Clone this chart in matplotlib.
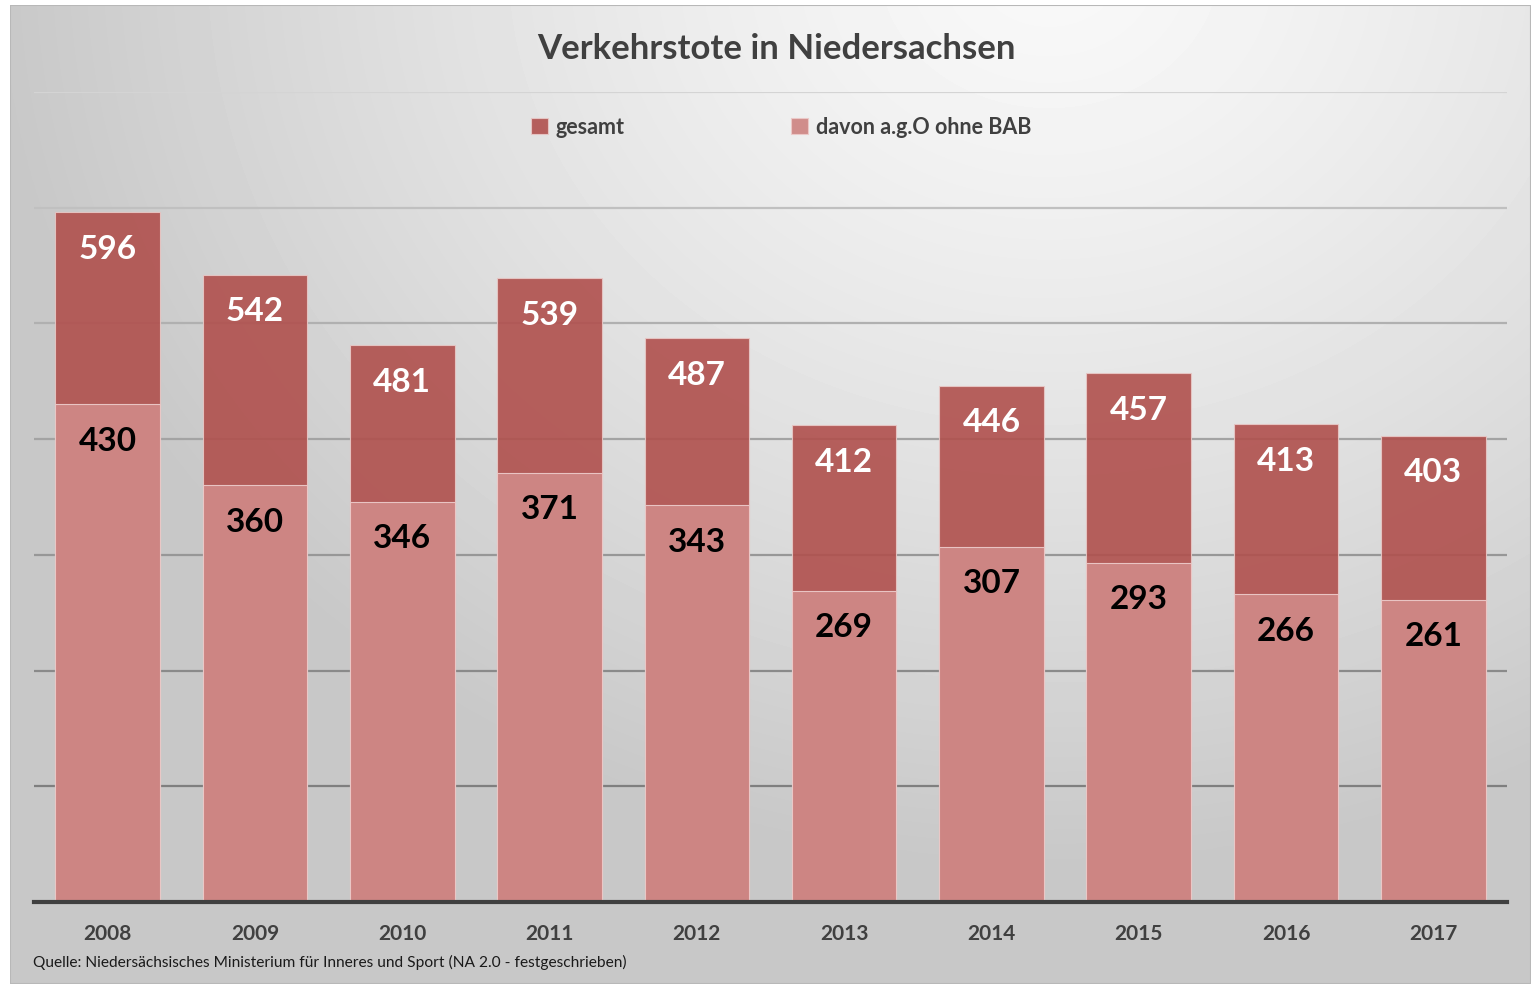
import matplotlib.pyplot as plt
import numpy as np
from matplotlib.patches import Rectangle

years = ["2008", "2009", "2010", "2011", "2012", "2013", "2014", "2015", "2016", "2017"]
gesamt = [596, 542, 481, 539, 487, 412, 446, 457, 413, 403]
davon = [430, 360, 346, 371, 343, 269, 307, 293, 266, 261]

W, H = 1537, 984
fig = plt.figure(figsize=(W / 100, H / 100), dpi=100)
fig.patch.set_facecolor("white")

# background: soft radial gradient, lightest near the top centre-right
bg = fig.add_axes([10 / W, 0, 1521 / W, 979 / H], zorder=-10)
gx, gy = np.meshgrid(np.linspace(10, 1531, 400), np.linspace(5, 984, 260))
r = np.sqrt(((gx - 1050) / 1050) ** 2 + ((gy + 40) / 900) ** 2)
shade = 0.975 - 0.19 * np.clip(r, 0, 1) ** 1.3
bg.imshow(shade, cmap="gray", vmin=0, vmax=1, aspect="auto",
          extent=[0, 1, 0, 1], interpolation="bicubic")
bg.add_patch(Rectangle((0, 0), 1, 1, transform=bg.transAxes, fill=False,
                       edgecolor="#b8b8b8", lw=1.5))
bg.set_axis_off()

ax = fig.add_axes([34 / W, (H - 902) / H, (1507 - 34) / W, (902 - 92) / H])
ax.set_facecolor("none")

# gridlines get darker toward the bottom, like the original
grid_vals = [100, 200, 300, 400, 500, 600, 700]
grid_cols = ["#7f7f7f", "#8a8a8a", "#979797", "#a3a3a3", "#b0b0b0", "#c0c0c0", "#d4d4d4"]
for gv, gc in zip(grid_vals, grid_cols):
    ax.axhline(gv, color=gc, linewidth=1.6, zorder=0)

x = np.arange(len(years))
bw = 0.71
ax.bar(x, gesamt, width=bw, color="#b0504d", alpha=0.9, edgecolor="#e8c8c6",
       linewidth=0.8, zorder=2, label="gesamt")
ax.bar(x, davon, width=bw, color="#cf8886", alpha=0.95, edgecolor="#ecc9c8",
       linewidth=0.8, zorder=3, label="davon a.g.O ohne BAB")

font = ["Lato", "DejaVu Sans"]
for i in range(len(years)):
    ax.annotate(str(gesamt[i]), (x[i], gesamt[i]), xytext=(0, -37),
                textcoords="offset pixels", ha="center", va="center",
                fontsize=24, fontweight="bold", color="white", family=font, zorder=5)
    ax.annotate(str(davon[i]), (x[i], davon[i]), xytext=(0, -37),
                textcoords="offset pixels", ha="center", va="center",
                fontsize=24, fontweight="bold", color="black", family=font, zorder=5)

ax.set_xlim(-0.5, len(years) - 0.5)
ax.set_ylim(0, 700)
ax.set_yticks([])
ax.tick_params(axis="x", length=0, pad=16, labelsize=15, labelcolor="#404040")
ax.set_xticks(x)
ax.set_xticklabels(years, family=font, fontweight="bold")
for s in ["top", "right", "left"]:
    ax.spines[s].set_visible(False)
ax.spines["bottom"].set_color("#404040")
ax.spines["bottom"].set_linewidth(3)
ax.spines["bottom"].set_zorder(6)

fig.text(776 / W, 1 - 49 / H, "Verkehrstote in Niedersachsen", ha="center", va="center",
         fontsize=25, fontweight="bold", color="#404040", family=font)

leg = ax.legend(loc="center", bbox_to_anchor=(781 / W, 1 - 127 / H),
                bbox_transform=fig.transFigure, ncol=2, frameon=False,
                prop={"family": font, "size": 15.5, "weight": "bold"},
                handlelength=0.8, handleheight=0.8, handletextpad=0.35,
                columnspacing=7.75)
for t in leg.get_texts():
    t.set_color("#404040")

fig.text(33 / W, 1 - 962 / H,
         "Quelle: Niedersächsisches Ministerium für Inneres und Sport (NA 2.0 - festgeschrieben)",
         ha="left", va="center", fontsize=11.2, color="#1a1a1a",
         family=["Liberation Sans Narrow", "Lato", "DejaVu Sans"])

fig.savefig("out.png", dpi=100)
